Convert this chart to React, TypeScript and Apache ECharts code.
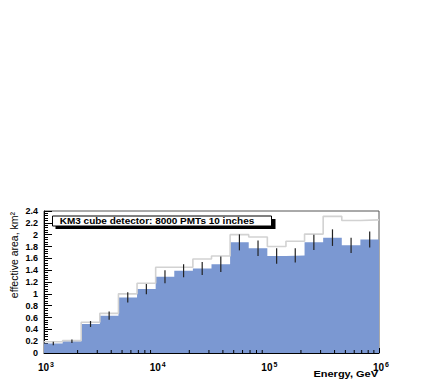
import React, { useEffect, useRef } from "react";
import * as echarts from "echarts";

// 18 logarithmic bins from 10^3 to 10^6 GeV (6 bins per decade)
const binsPerDecade = 6;
const firstDecade = 3;
const nBins = 18;

// effective area (filled histogram), km^2
const effArea = [0.16, 0.2, 0.49, 0.63, 0.94, 1.08, 1.29, 1.39, 1.43, 1.5, 1.87, 1.77, 1.64, 1.65, 1.87, 1.95, 1.82, 1.92];
// statistical errors (half length of error bars)
const effErr = [0.03, 0.03, 0.05, 0.07, 0.085, 0.085, 0.11, 0.11, 0.11, 0.13, 0.135, 0.13, 0.13, 0.12, 0.13, 0.14, 0.13, 0.135];
// outline histogram (light grey), km^2
const outline = [0.19, 0.21, 0.52, 0.67, 1.0, 1.18, 1.45, 1.45, 1.59, 1.64, 2.0, 1.96, 1.8, 1.89, 2.01, 2.31, 2.24, 2.25];

const yTickMax = 2.4;
const yTickStep = 0.2;
const xMinorMultipliers = [2, 3, 4, 5, 6, 7, 8, 9];
const xDecades = [1e3, 1e4, 1e5];

const legendText = "KM3 cube detector: 8000 PMTs 10 inches";
const xTitle = "Energy, GeV";
const yTitle = "effective area, km²";

const FONT = "'Liberation Sans', Arial, Helvetica, sans-serif";
const BLUE = "#7b98d2";

export default function App() {
  const ref = useRef<HTMLDivElement>(null);

  useEffect(() => {
    if (!ref.current) return;
    const chart = echarts.init(ref.current, undefined, { renderer: "svg" });

    const edges: number[] = [];
    for (let i = 0; i <= nBins; i++) edges.push(Math.pow(10, firstDecade + i / binsPerDecade));
    const centers = edges.slice(0, nBins).map((e, i) => Math.sqrt(e * edges[i + 1]));

    const areaData: number[][] = effArea.map((v, i) => [edges[i], v]);
    areaData.push([edges[nBins], effArea[nBins - 1]]);
    const errData = effArea.map((v, i) => [centers[i], v - effErr[i], v + effErr[i]]);
    const outlineData: number[][] = outline.map((v, i) => [edges[i], v]);
    outlineData.push([edges[nBins], outline[nBins - 1]]);
    const minorData: number[][] = [];
    xDecades.forEach((d) => xMinorMultipliers.forEach((m) => minorData.push([d * m, 0])));

    chart.setOption({
      animation: false,
      grid: {
        left: 44,
        right: 52,
        top: 211,
        bottom: 29,
        show: true,
        borderColor: "#555",
        borderWidth: 1,
        backgroundColor: "transparent",
      },
      xAxis: {
        type: "log",
        logBase: 10,
        min: 1e3,
        max: 1e6,
        axisLine: { show: true, lineStyle: { color: "#000", width: 1 } },
        axisTick: { show: true, inside: true, length: 5, lineStyle: { color: "#000" } },
        minorTick: { show: false },
        splitLine: { show: false },
        axisLabel: {
          margin: 8,
          formatter: (v: number) => `{b|10}{s|${Math.round(Math.log10(v))}}`,
          rich: {
            b: { fontSize: 10, fontWeight: "bold", fontFamily: FONT, color: "#000", lineHeight: 12, padding: [0, 0, 0, 4] },
            s: { fontSize: 7, fontWeight: "bold", fontFamily: FONT, color: "#000", verticalAlign: "top", lineHeight: 12, padding: [0, 0, 6, 1] },
          },
        },
      },
      yAxis: {
        type: "value",
        min: 0,
        max: yTickMax,
        interval: yTickStep,
        axisLine: { show: true, lineStyle: { color: "#000", width: 1 } },
        axisTick: { show: true, inside: true, length: 8, lineStyle: { color: "#000" } },
        minorTick: { show: true, splitNumber: 5, length: 4, lineStyle: { color: "#000" } },
        splitLine: { show: false },
        minorSplitLine: { show: false },
        axisLabel: {
          margin: 6,
          fontSize: 9,
          fontWeight: "bold",
          fontFamily: FONT,
          color: "#000",
          formatter: (v: number) => String(Math.round(v * 10) / 10),
        },
      },
      series: [
        {
          type: "line",
          name: "area",
          step: "end",
          data: areaData,
          showSymbol: false,
          symbol: "none",
          lineStyle: { width: 0, color: BLUE },
          areaStyle: { color: BLUE, opacity: 1, origin: "start" },
          z: 1,
        },
        {
          type: "line",
          name: "outline",
          step: "end",
          data: outlineData,
          showSymbol: false,
          symbol: "none",
          lineStyle: { color: "#d2d2d2", width: 1.6 },
          z: 2,
        },
        {
          type: "custom",
          name: "errors",
          encode: { x: 0, y: [1, 2] },
          data: errData,
          renderItem: (params: any, api: any) => {
            const a = api.coord([api.value(0), api.value(1)]);
            const b = api.coord([api.value(0), api.value(2)]);
            return {
              type: "line",
              shape: { x1: a[0], y1: a[1], x2: b[0], y2: b[1] },
              style: { stroke: "#222", lineWidth: 1.2 },
            };
          },
          z: 3,
        },
        {
          type: "custom",
          name: "minorTicks",
          encode: { x: 0, y: 1 },
          data: minorData,
          silent: true,
          renderItem: (params: any, api: any) => {
            const a = api.coord([api.value(0), 0]);
            return {
              type: "line",
              shape: { x1: a[0], y1: a[1], x2: a[0], y2: a[1] - 3 },
              style: { stroke: "#000", lineWidth: 1 },
            };
          },
          z: 4,
        },
      ],
      graphic: [
        {
          type: "rect",
          shape: { x: 55.5, y: 219, width: 220, height: 10 },
          style: { fill: "#000" },
          z: 10,
        },
        {
          type: "rect",
          shape: { x: 52.5, y: 216, width: 219, height: 10 },
          style: { fill: "#fff", stroke: "#000", lineWidth: 1 },
          z: 11,
        },
        {
          type: "text",
          x: 157,
          y: 221.5,
          scaleY: 0.82,
          style: {
            text: legendText,
            font: `bold 10px ${FONT}`,
            fill: "#000",
            align: "center",
            verticalAlign: "middle",
          },
          z: 12,
        },
        {
          type: "text",
          x: 378,
          y: 374,
          scaleY: 0.82,
          style: {
            text: xTitle,
            font: `bold 11px ${FONT}`,
            fill: "#000",
            align: "right",
            verticalAlign: "middle",
          },
          z: 12,
        },
        {
          type: "text",
          x: 14,
          y: 212,
          rotation: Math.PI / 2,
          style: {
            text: yTitle,
            font: `10.5px ${FONT}`,
            fill: "#000",
            align: "right",
            verticalAlign: "middle",
          },
          z: 12,
        },
      ],
    });

    return () => chart.dispose();
  }, []);

  return (
    <div
      ref={ref}
      style={{ position: "absolute", left: 0, top: 0, width: 431, height: 382, background: "#fff" }}
    />
  );
}
